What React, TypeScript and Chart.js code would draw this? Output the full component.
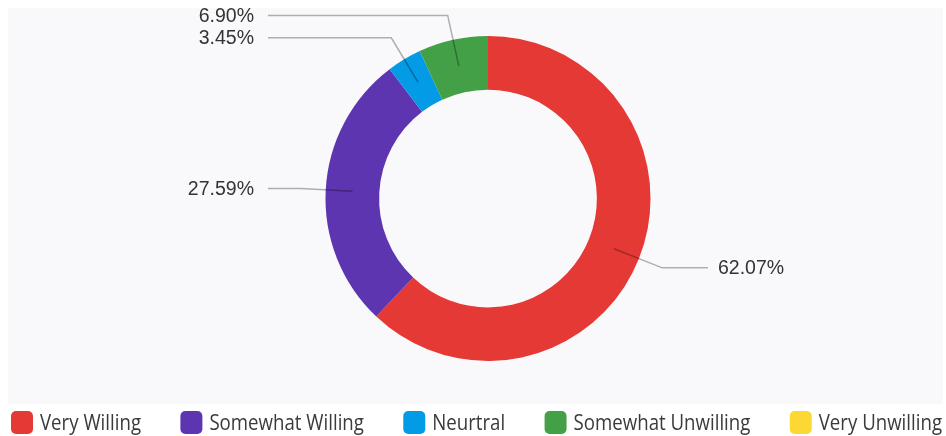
import { useEffect, useRef } from 'react';
import { Chart, registerables } from 'chart.js';

Chart.register(...registerables);

const categories = ['Very Willing', 'Somewhat Willing', 'Neurtral', 'Somewhat Unwilling', 'Very Unwilling'];
const shares = [62.07, 27.59, 3.45, 6.9, 0];
const sliceColors = ['#e53935', '#5e35b1', '#039be5', '#43a047', '#fdd835'];

const labelFont = '19.5px "Liberation Sans", Arial, sans-serif';
const legendFont = '22px "Open Sans", "Noto Sans", sans-serif';

export default function App() {
  const ref = useRef<HTMLCanvasElement>(null);

  useEffect(() => {
    document.body.style.margin = '0';
    const canvas = ref.current;
    if (!canvas) return;

    const bgPlugin = {
      id: 'bgPanel',
      beforeDraw(chart: any) {
        const ctx = chart.ctx;
        ctx.save();
        ctx.fillStyle = '#ffffff';
        ctx.fillRect(0, 0, chart.width, chart.height);
        ctx.fillStyle = '#f9f9fb';
        ctx.fillRect(8, 8, 935, 396);
        ctx.restore();
      },
    };

    const leaderPlugin = {
      id: 'leaders',
      afterDatasetsDraw(chart: any) {
        const ctx = chart.ctx;
        const meta = chart.getDatasetMeta(0);
        ctx.save();
        meta.data.forEach((arc: any, i: number) => {
          const v = shares[i];
          if (!v) return;
          const p = arc.getProps(['x', 'y', 'startAngle', 'endAngle', 'innerRadius', 'outerRadius'], true);
          const a = (p.startAngle + p.endAngle) / 2;
          const rMid = (p.innerRadius + p.outerRadius) / 2;
          const rElbow = p.outerRadius + 25;
          const x0 = p.x + Math.cos(a) * rMid;
          const y0 = p.y + Math.sin(a) * rMid;
          const x1 = p.x + Math.cos(a) * rElbow;
          const y1 = p.y + Math.sin(a) * rElbow;
          const right = Math.cos(a) >= 0;
          const x2 = right ? p.x + 220 : p.x - 220;
          ctx.beginPath();
          ctx.moveTo(x0, y0);
          ctx.lineTo(x1, y1);
          ctx.lineTo(x2, y1);
          ctx.strokeStyle = 'rgba(0,0,0,0.3)';
          ctx.lineWidth = 1.5;
          ctx.stroke();
          ctx.font = labelFont;
          ctx.fillStyle = '#333333';
          ctx.textBaseline = 'middle';
          ctx.textAlign = right ? 'left' : 'right';
          ctx.fillText(v.toFixed(2) + '%', right ? x2 + 10 : x2 - 14, y1 + 1);
        });
        ctx.restore();
      },
    };

    const legendPlugin = {
      id: 'customLegend',
      afterDraw(chart: any) {
        const ctx = chart.ctx;
        ctx.save();
        ctx.font = legendFont;
        const squeeze = 101 / ctx.measureText(categories[0]).width;
        const boxW = 22;
        const boxH = 23;
        const textGap = 7;
        const widths = categories.map((c) => ctx.measureText(c).width * squeeze);
        const startX = 11;
        const endX = 942;
        const used = widths.reduce((s, w) => s + boxW + textGap + w, 0);
        const gap = (endX - startX - used) / (categories.length - 1);
        let x = startX;
        const boxTop = 411;
        categories.forEach((c, i) => {
          ctx.fillStyle = sliceColors[i];
          ctx.beginPath();
          (ctx as any).roundRect(x, boxTop, boxW, boxH, 5);
          ctx.fill();
          ctx.fillStyle = '#3a3a3a';
          ctx.textBaseline = 'middle';
          ctx.textAlign = 'left';
          const tx = x + boxW + textGap;
          ctx.save();
          ctx.translate(tx, boxTop + boxH / 2 + 1);
          ctx.scale(squeeze, 1);
          ctx.fillText(c, 0, 0);
          ctx.restore();
          x += boxW + textGap + widths[i] + gap;
        });
        ctx.restore();
      },
    };

    const chart = new Chart(canvas, {
      type: 'doughnut',
      data: {
        labels: categories,
        datasets: [
          {
            data: shares,
            backgroundColor: sliceColors,
            borderWidth: 0,
          },
        ],
      },
      options: {
        responsive: false,
        animation: false,
        cutout: '67%',
        layout: { padding: { top: 36, bottom: 75, left: 30, right: 0 } },
        plugins: {
          legend: { display: false },
          tooltip: { enabled: false },
        },
      },
      plugins: [bgPlugin, leaderPlugin, legendPlugin],
    });

    return () => chart.destroy();
  }, []);

  return (
    <div style={{ width: 946, height: 436 }}>
      <canvas ref={ref} width={946} height={436} style={{ display: 'block' }} />
    </div>
  );
}
